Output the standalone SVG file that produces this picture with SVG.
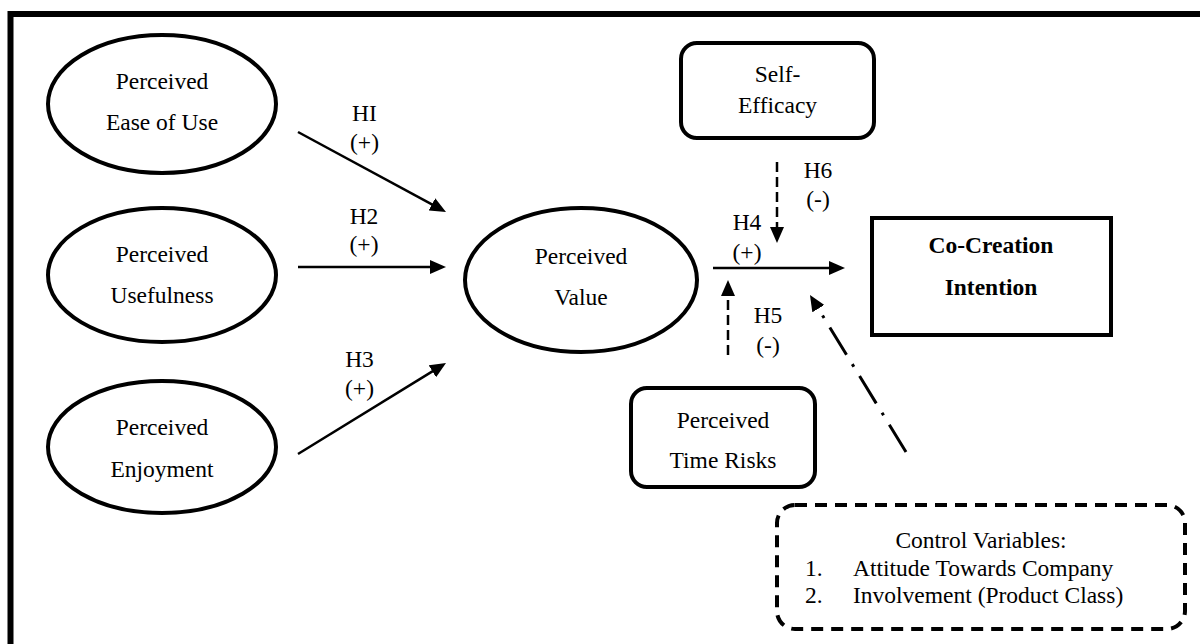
<svg xmlns="http://www.w3.org/2000/svg" width="1200" height="644" viewBox="0 0 1200 644">
  <style>
    text { font-family: "Liberation Serif", "Times New Roman", serif; font-size: 23.5px; fill: #000; text-anchor: middle; }
    .bold { font-weight: bold; }
    .left { text-anchor: start; }
    .construct { fill: #fff; stroke: #000; stroke-width: 4; }
    .edge { fill: none; stroke: #000; stroke-width: 2.5; }
    .dashed { stroke-dasharray: 10 5; }
    .dashdot { stroke-width: 3; stroke-dasharray: 32 11 3 11; }
    .control { fill: #fff; stroke: #000; stroke-width: 4; stroke-dasharray: 12 8; }
  </style>
  <defs>
    <marker id="arrow" viewBox="0 0 16 14" markerWidth="16" markerHeight="14" refX="10" refY="7" orient="auto" markerUnits="userSpaceOnUse">
      <path d="M0,0 L16,7 L0,14 z" fill="#000"/>
    </marker>
  </defs>

  <rect width="1200" height="644" fill="#fff"/>

  <!-- outer frame (runs off the right and bottom edges) -->
  <path d="M10.5 650 V14 H1210" fill="none" stroke="#000" stroke-width="6"/>

  <!-- connectors -->
  <g id="connectors">
    <line class="edge" x1="298" y1="132" x2="440.7" y2="209.1" marker-end="url(#arrow)"/>
    <line class="edge" x1="298" y1="267" x2="440" y2="267" marker-end="url(#arrow)"/>
    <line class="edge" x1="298" y1="454" x2="440.9" y2="366.1" marker-end="url(#arrow)"/>
    <line class="edge" x1="713" y1="268" x2="839" y2="268" marker-end="url(#arrow)"/>
    <line class="edge dashed" x1="777" y1="162" x2="777" y2="237" marker-end="url(#arrow)"/>
    <line class="edge dashed" x1="728" y1="355" x2="728" y2="286" marker-end="url(#arrow)"/>
    <line class="edge dashdot" x1="906" y1="452" x2="813.1" y2="300.1" marker-end="url(#arrow)"/>
  </g>

  <!-- hypothesis labels -->
  <g id="edge-labels">
    <text x="364.5" y="121">HI</text>
    <text x="364.5" y="150">(+)</text>
    <text x="364" y="224">H2</text>
    <text x="364" y="252">(+)</text>
    <text x="359.5" y="367">H3</text>
    <text x="359.5" y="396">(+)</text>
    <text x="747" y="230">H4</text>
    <text x="747" y="260">(+)</text>
    <text x="768" y="323">H5</text>
    <text x="768" y="353">(-)</text>
    <text x="818" y="178">H6</text>
    <text x="818" y="207">(-)</text>
  </g>

  <g id="ease-of-use">
    <ellipse class="construct" cx="162" cy="104" rx="114" ry="69"/>
    <text x="162" y="89">Perceived</text>
    <text x="162" y="130">Ease of Use</text>
  </g>

  <g id="usefulness">
    <ellipse class="construct" cx="162" cy="275" rx="114" ry="67"/>
    <text x="162" y="262">Perceived</text>
    <text x="162" y="303">Usefulness</text>
  </g>

  <g id="enjoyment">
    <ellipse class="construct" cx="162" cy="447" rx="114" ry="66"/>
    <text x="162" y="435">Perceived</text>
    <text x="162" y="477">Enjoyment</text>
  </g>

  <g id="perceived-value">
    <ellipse class="construct" cx="581" cy="280" rx="116" ry="72"/>
    <text x="581" y="264">Perceived</text>
    <text x="581" y="305">Value</text>
  </g>

  <g id="self-efficacy">
    <rect class="construct" x="681" y="43" width="193" height="95" rx="16"/>
    <text x="777.5" y="82">Self-</text>
    <text x="777.5" y="113">Efficacy</text>
  </g>

  <g id="time-risks">
    <rect class="construct" x="631" y="388" width="184" height="99" rx="16"/>
    <text x="723" y="428">Perceived</text>
    <text x="723" y="468">Time Risks</text>
  </g>

  <g id="co-creation-intention">
    <rect class="construct" x="872" y="218" width="239" height="117"/>
    <text class="bold" x="991" y="253">Co-Creation</text>
    <text class="bold" x="991" y="295">Intention</text>
  </g>

  <g id="control-variables">
    <rect class="control" x="777" y="505" width="408" height="124" rx="18"/>
    <text x="981" y="548">Control Variables:</text>
    <text class="left" x="805" y="576">1.</text>
    <text class="left" x="853" y="576">Attitude Towards Company</text>
    <text class="left" x="805" y="603">2.</text>
    <text class="left" x="853" y="603">Involvement (Product Class)</text>
  </g>
</svg>
